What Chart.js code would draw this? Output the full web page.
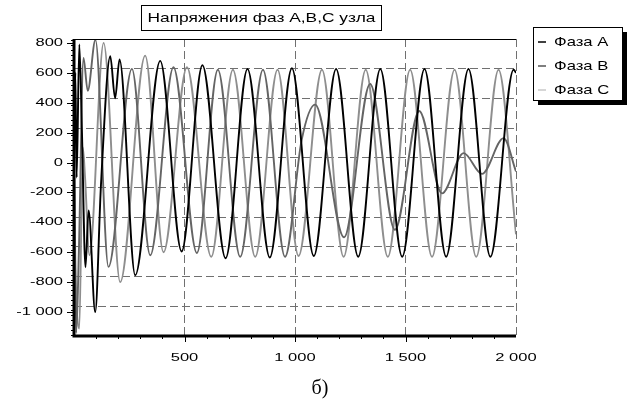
<!DOCTYPE html>
<html>
<head>
<meta charset="utf-8">
<script src="https://cdn.jsdelivr.net/npm/chart.js@4.4.1/dist/chart.umd.min.js"></script>
<style>
  html, body { margin: 0; padding: 0; background: #fff; }
</style>
</head>
<body>
<canvas id="phaseChart" width="634" height="403"></canvas>
<script>
const chartTitle = "Напряжения фаз A,B,C узла";
const caption = "б)";
const seriesNames = ["Фаза A", "Фаза B", "Фаза C"];
const seriesColors = ["#000000", "#646464", "#8e8e8e"];
const legendColors = ["#000000", "#555555", "#c8c8c8"];

const xTicks = [500, 1000, 1500, 2000];
const xTickLabels = ["500", "1 000", "1 500", "2 000"];
const yTicks = [800, 600, 400, 200, 0, -200, -400, -600, -800, -1000];
const yTickLabels = ["800", "600", "400", "200", "0", "-200", "-400", "-600", "-800", "-1 000"];

// [x, value]: peaks, troughs and a few turning points
const phaseA = [
  [0, 0], [6, 600], [12, -100], [24, 790], [36, 200], [52, -700], [66, -320], [96, -1000],
  [122, -150], [164, 711], [186, 430], [206, 689], [277, -754], [390, 680], [487, -595],
  [581, 650], [686, -640], [785, 625], [886, -635], [986, 630], [1085, -625], [1186, 625],
  [1286, -630], [1386, 625], [1485, -630], [1586, 625], [1684, -630], [1785, 625],
  [1884, -630], [1989, 620], [2000, 600]
];
const phaseB = [
  [0, 0], [10, -1140], [22, -600], [43, 700], [62, 480], [97, 820], [156, -698], [262, 626],
  [345, -620], [450, 637], [556, -605], [651, 620], [752, -630], [855, 620], [955, -630],
  [1030, 150], [1091, 387], [1222, -500], [1340, 525], [1452, -450], [1562, 345],
  [1665, -206], [1763, 63], [1846, -76], [1944, 163], [2000, -60]
];
const phaseC = [
  [0, 0], [6, -650], [24, -1110], [40, 100], [50, -100], [70, -620], [134, 800], [209, -800],
  [322, 715], [405, -600], [511, 637], [621, -630], [719, 620], [820, -630], [921, 620],
  [1016, -625], [1122, 620], [1220, -630], [1320, 620], [1420, -630], [1521, 620],
  [1620, -630], [1722, 620], [1820, -630], [1921, 620], [2000, -480]
];
const phases = [phaseA, phaseB, phaseC];

function stretchedText(ctx, text, x, y, font, sx, align) {
  ctx.save();
  ctx.font = font;
  ctx.textBaseline = "middle";
  ctx.textAlign = "left";
  const w = ctx.measureText(text).width * sx;
  let left = x;
  if (align === "right") left = x - w;
  else if (align === "center") left = x - w / 2;
  ctx.translate(left, y);
  ctx.scale(sx, 1);
  ctx.fillStyle = "#000";
  ctx.fillText(text, 0, 0);
  ctx.restore();
}

const decorPlugin = {
  id: "decor",
  afterDraw(chart) {
    const ctx = chart.ctx;
    const area = chart.chartArea;
    const xs = chart.scales.x, ys = chart.scales.y;
    const tickFont = "11px 'Liberation Sans', Arial, sans-serif";

    ctx.save();
    // frame: thin top line, thick left and bottom axes
    ctx.strokeStyle = "#000";
    ctx.lineWidth = 1;
    ctx.beginPath();
    ctx.moveTo(area.left, area.top + 0.5);
    ctx.lineTo(area.right, area.top + 0.5);
    ctx.stroke();
    ctx.lineWidth = 3;
    ctx.beginPath();
    ctx.moveTo(area.left, area.top);
    ctx.lineTo(area.left, area.bottom);
    ctx.lineTo(area.right, area.bottom);
    ctx.stroke();

    // minor and major ticks
    ctx.lineWidth = 1;
    ctx.beginPath();
    for (let v = 100; v < 2000; v += 100) {
      const px = Math.round(xs.getPixelForValue(v)) + 0.5;
      const len = v % 500 === 0 ? 6 : 3;
      ctx.moveTo(px, area.bottom);
      ctx.lineTo(px, area.bottom + len);
    }
    for (let v = -1150; v <= 825; v += 200 / 6) {
      const py = Math.round(ys.getPixelForValue(v)) + 0.5;
      ctx.moveTo(area.left - 3, py);
      ctx.lineTo(area.left, py);
    }
    yTicks.forEach(v => {
      const py = Math.round(ys.getPixelForValue(v)) + 0.5;
      ctx.moveTo(area.left - 7, py);
      ctx.lineTo(area.left, py);
    });
    ctx.stroke();

    // tick labels
    yTicks.forEach((v, i) => {
      stretchedText(ctx, yTickLabels[i], area.left - 11, ys.getPixelForValue(v), tickFont, 1.5, "right");
    });
    xTicks.forEach((v, i) => {
      stretchedText(ctx, xTickLabels[i], xs.getPixelForValue(v), area.bottom + 22, tickFont, 1.5, "center");
    });

    // title box
    ctx.lineWidth = 1;
    ctx.strokeStyle = "#000";
    ctx.fillStyle = "#fff";
    ctx.fillRect(141.5, 5.5, 240, 25);
    ctx.strokeRect(141.5, 5.5, 240, 25);
    ctx.font = "13px 'Liberation Sans', Arial, sans-serif";
    const tw = ctx.measureText(chartTitle).width;
    stretchedText(ctx, chartTitle, 261.5, 18, "13px 'Liberation Sans', Arial, sans-serif", 228 / tw, "center");

    // legend box with drop shadow
    ctx.fillStyle = "#000";
    ctx.fillRect(538, 32, 89, 73);
    ctx.fillStyle = "#fff";
    ctx.fillRect(533.5, 27.5, 89, 73);
    ctx.strokeRect(533.5, 27.5, 89, 73);
    seriesNames.forEach((name, i) => {
      const rowY = 42 + i * 24;
      ctx.strokeStyle = legendColors[i];
      ctx.lineWidth = 1.5;
      ctx.beginPath();
      ctx.moveTo(538, rowY);
      ctx.lineTo(546, rowY);
      ctx.stroke();
      stretchedText(ctx, name, 554, rowY, "13px 'Liberation Sans', Arial, sans-serif", 1.28, "left");
    });

    // caption under the chart
    ctx.fillStyle = "#000";
    ctx.font = "20px 'Liberation Serif', 'Times New Roman', serif";
    ctx.textAlign = "center";
    ctx.textBaseline = "middle";
    ctx.fillText(caption, 320, 389);
    ctx.restore();
  }
};

new Chart(document.getElementById("phaseChart").getContext("2d"), {
  type: "line",
  data: {
    datasets: phases.map((pts, i) => ({
      label: seriesNames[i],
      data: pts.map(p => ({ x: p[0], y: p[1] })),
      borderColor: seriesColors[i],
      borderWidth: 1.9,
      pointRadius: 0,
      fill: false,
      cubicInterpolationMode: "monotone"
    }))
  },
  options: {
    responsive: false,
    animation: false,
    events: [],
    layout: { padding: { left: 74, right: 118, top: 39, bottom: 67 } },
    plugins: {
      legend: { display: false },
      title: { display: false },
      tooltip: { enabled: false }
    },
    scales: {
      x: {
        type: "linear",
        min: 0,
        max: 2000,
        ticks: { display: false, stepSize: 500 },
        grid: { color: "#707070", lineWidth: 1, drawTicks: false },
        border: { display: false, dash: [8, 4] }
      },
      y: {
        min: -1160,
        max: 826,
        ticks: { display: false, stepSize: 200, includeBounds: false },
        grid: { color: "#707070", lineWidth: 1, drawTicks: false },
        border: { display: false, dash: [8, 4] }
      }
    }
  },
  plugins: [decorPlugin]
});
</script>
</body>
</html>
